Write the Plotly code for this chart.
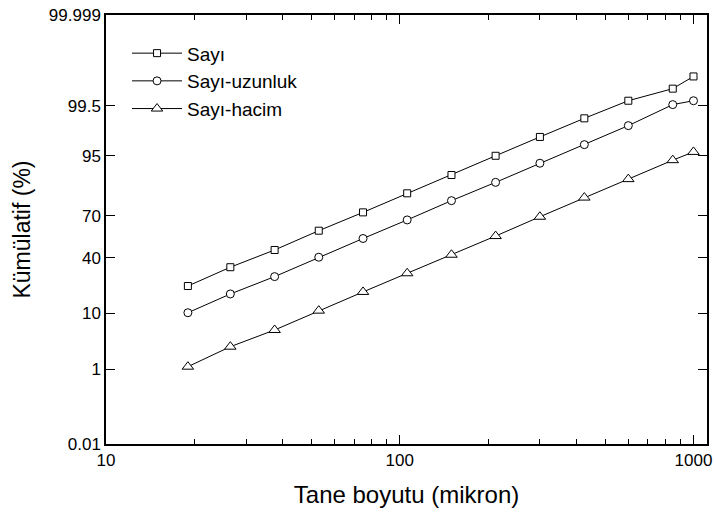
import plotly.graph_objects as go
from statistics import NormalDist

# ---- data ----
sizes = [19, 26.5, 37.5, 53, 75, 106, 150, 212, 300, 425, 600, 850, 1000]
sayi = [21.8, 33.4, 45.7, 59.9, 72.3, 82.8, 90.1, 95.0, 97.7, 99.04, 99.62, 99.81, 99.91]
sayi_uzunluk = [10.1, 17.7, 27.3, 40.4, 54.2, 67.4, 79.1, 87.5, 93.4, 96.8, 98.63, 99.53, 99.62]
sayi_hacim = [1.13, 2.82, 5.51, 10.8, 18.7, 29.4, 42.2, 56.0, 69.5, 80.7, 88.7, 94.1, 95.7]
y_ticks = [0.01, 1, 10, 40, 70, 95, 99.5, 99.999]
y_ticklabels = ["0.01", "1", "10", "40", "70", "95", "99.5", "99.999"]
x_ticks = [10, 100, 1000]
x_ticklabels = ["10", "100", "1000"]
x_minor_ticks = [20, 30, 40, 50, 60, 70, 80, 90, 200, 300, 400, 500, 600, 700, 800, 900]

nd = NormalDist()


def probit(p):
    return nd.inv_cdf(p / 100.0)


FONT = "Arial, 'Liberation Sans', sans-serif"

fig = go.Figure()
series = [
    ("Sayı", sayi, "square", 7),
    ("Sayı-uzunluk", sayi_uzunluk, "circle", 8),
    ("Sayı-hacim", sayi_hacim, "triangle-up", 10),
]
for name, vals, sym, sz in series:
    fig.add_trace(go.Scatter(
        x=sizes, y=[probit(v) for v in vals], name=name,
        mode="lines+markers",
        line=dict(color="black", width=1),
        marker=dict(symbol=sym, size=sz, color="white",
                    line=dict(color="black", width=1)),
        customdata=vals,
        hovertemplate="%{x}: %{customdata}%<extra>" + name + "</extra>",
    ))

fig.update_layout(
    width=714, height=514,
    margin=dict(l=106, r=7, t=15, b=70),
    paper_bgcolor="white", plot_bgcolor="white",
    font=dict(family=FONT, color="black"),
    showlegend=True,
    legend=dict(x=0.035, y=0.955, xanchor="left", yanchor="top",
                bgcolor="rgba(0,0,0,0)", font=dict(size=19, family=FONT),
                itemwidth=50),
)
fig.update_xaxes(
    type="log", range=[1, 3.046],
    tickmode="array", tickvals=x_ticks, ticktext=x_ticklabels,
    ticks="inside", ticklen=9, tickwidth=1.2, tickcolor="black",
    minor=dict(tickmode="array", tickvals=x_minor_ticks, ticks="inside",
               ticklen=5, tickwidth=1, tickcolor="black", showgrid=False),
    showline=True, linecolor="black", linewidth=1.5, mirror="allticks",
    showgrid=False, zeroline=False, automargin=False,
    ticklabeloverflow="allow",
    tickfont=dict(size=17),
    title=dict(text="Tane boyutu (mikron)", font=dict(size=24), standoff=17),
)
fig.update_yaxes(
    range=[probit(0.01), probit(99.999)],
    tickvals=[probit(v) for v in y_ticks], ticktext=y_ticklabels,
    ticks="inside", ticklen=9, tickwidth=1.2, tickcolor="black",
    showline=True, linecolor="black", linewidth=1.5, mirror="allticks",
    showgrid=False, zeroline=False, automargin=False,
    ticklabeloverflow="allow",
    tickfont=dict(size=17),
    title=dict(text="Kümülatif (%)", font=dict(size=23), standoff=12),
)

# remove the default 8px page margin so the 714x514 figure fills the window exactly
fig.write_html(
    "out.html",
    config={"displayModeBar": False},
    post_script="document.body.style.margin='0';document.body.style.overflow='hidden';",
)
